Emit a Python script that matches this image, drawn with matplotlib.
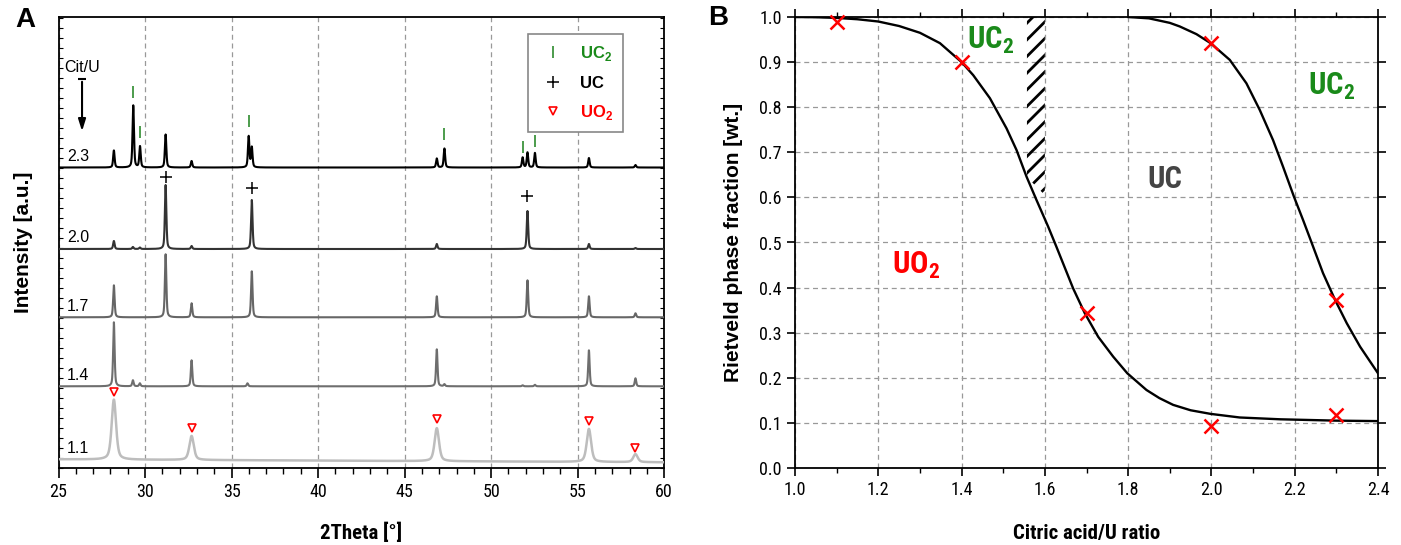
import numpy as np
import matplotlib
matplotlib.use("Agg")
import matplotlib.pyplot as plt
from matplotlib import font_manager
from matplotlib.ticker import MultipleLocator, NullFormatter, FormatStrFormatter

_names = {f.name for f in font_manager.fontManager.ttflist}
REG = "Liberation Sans" if "Liberation Sans" in _names else "DejaVu Sans"
NARROW = REG
for cand in ["Liberation Sans Narrow", "Roboto Condensed", "Open Sans Condensed",
             "DejaVu Sans Condensed", "Noto Sans Condensed"]:
    if cand in _names:
        NARROW = cand
        break

# ---------------- Data: panel A (XRD patterns) ----------------
ratios = ["2.3", "2.0", "1.7", "1.4", "1.1"]
baselines = [300.5, 219.0, 150.7, 81.7, 8.7]
baseline_right = [300.5, 219.0, 150.7, 81.7, 5.7]
colors_A = ["#000000", "#333333", "#666666", "#6e6e6e", "#bdbdbd"]
fwhm_A = [0.10, 0.10, 0.10, 0.10, 0.30]

pos_23 = [28.2, 29.32, 29.71, 31.19, 32.69, 35.99, 36.17, 46.86, 47.3, 51.82, 52.1, 52.53, 55.65, 58.34]
h_23 = [17, 62, 21, 33, 6.5, 31, 20, 9, 19, 10, 15, 14.5, 9.5, 2.5]
pos_20 = [28.2, 29.3, 29.7, 31.19, 32.69, 36.17, 46.86, 52.1, 55.65, 58.34]
h_20 = [8, 2, 1.5, 64, 3, 49, 5, 38, 5, 1]
pos_17 = [28.2, 31.19, 32.69, 36.17, 46.86, 52.1, 55.65, 58.34]
h_17 = [32, 63, 14, 46, 21, 37, 21, 4]
pos_14 = [28.2, 29.3, 29.7, 32.69, 35.92, 46.86, 47.3, 51.82, 52.53, 55.65, 58.34]
h_14 = [64, 6, 3, 26, 3, 37, 2, 1, 1.5, 36, 8]
pos_11 = [28.2, 32.69, 46.86, 55.65, 58.34]
h_11 = [60, 24, 33, 33, 8]
peaks = [(pos_23, h_23), (pos_20, h_20), (pos_17, h_17), (pos_14, h_14), (pos_11, h_11)]

uc2_x = [29.32, 29.71, 35.99, 47.3, 51.82, 52.53]
uc2_y = [376.3, 335.7, 347.0, 334.0, 320.7, 327.3]
uc_x = [31.19, 36.17, 52.1]
uc_y = [291.3, 280.0, 272.0]
uo2_x = [28.2, 32.69, 46.86, 55.65, 58.34]
uo2_y = [76.3, 40.0, 49.0, 47.0, 20.3]
legend_labels = ["UC$_\\mathregular{2}$", "UC", "UO$_\\mathregular{2}$"]

# ---------------- Data: panel B (phase fractions) ----------------
curve1_x = [1.00, 1.05, 1.10, 1.15, 1.20, 1.25, 1.30, 1.348, 1.40, 1.428, 1.468, 1.508, 1.532,
            1.556, 1.580, 1.608, 1.628, 1.668, 1.696, 1.728, 1.764, 1.798, 1.844, 1.875, 1.908,
            1.95, 1.998, 2.068, 2.165, 2.30, 2.40]
curve1_y = [1.000, 0.9995, 0.998, 0.995, 0.990, 0.980, 0.965, 0.942, 0.900, 0.871, 0.820, 0.753,
            0.705, 0.646, 0.594, 0.535, 0.490, 0.398, 0.343, 0.291, 0.247, 0.210, 0.173, 0.155,
            0.140, 0.128, 0.120, 0.112, 0.108, 0.105, 0.104]
curve2_x = [1.80, 1.85, 1.90, 1.924, 1.964, 1.998, 2.044, 2.084, 2.116, 2.148, 2.172, 2.198,
            2.220, 2.238, 2.268, 2.297, 2.325, 2.357, 2.40]
curve2_y = [1.000, 0.997, 0.987, 0.979, 0.962, 0.942, 0.905, 0.853, 0.794, 0.727, 0.668, 0.602,
            0.550, 0.506, 0.432, 0.3725, 0.321, 0.269, 0.210]
pts_x = [1.1, 1.4, 1.7, 2.0, 2.0, 2.3, 2.3]
pts_y = [0.99, 0.90, 0.343, 0.943, 0.094, 0.3725, 0.1175]
hatch_x = [1.557, 1.600]
hatch_bottom = [0.645, 0.605]
hatch_top = [1.0, 1.0]

# ---------------- Figure ----------------
plt.rcParams["hatch.linewidth"] = 2.0
W, H = 1401, 545
fig = plt.figure(figsize=(W / 100, H / 100), dpi=100)
axA = fig.add_axes([58.5 / W, 1 - 468 / H, (664.2 - 58.5) / W, (468 - 17) / H])
axB = fig.add_axes([795 / W, 1 - 468 / H, (1378 - 795) / W, (468 - 17) / H])

# Panel A
tt = np.linspace(25, 60, 7001)
for i, (pos, hts) in enumerate(peaks):
    base = np.linspace(baselines[i], baseline_right[i], tt.size)
    w = fwhm_A[i] / 2
    y = base.copy()
    for p, h in zip(pos, hts):
        lor = 1 / (1 + ((tt - p) / w) ** 2)
        gau = np.exp(-np.log(2) * ((tt - p) / w) ** 2)
        y += h * (0.5 * lor + 0.5 * gau)
    axA.plot(tt, y, color=colors_A[i], lw=1.5 if i < 4 else 1.8, zorder=3)
    axA.text(25.5, baselines[i] + 3.5, ratios[i], fontsize=11.5, family=REG,
             ha="left", va="bottom")

axA.plot(uc2_x, uc2_y, ls="none", marker="|", color="#2e8b2e", ms=8, mew=1.2, zorder=4)
axA.plot(uc_x, uc_y, ls="none", marker="+", color="black", ms=9, mew=1.1, zorder=4)
axA.plot(uo2_x, uo2_y, ls="none", marker="v", mfc="white", mec="red", ms=5.5, mew=1.2, zorder=4)

axA.text(26.39, 400.5, "Cit/U", fontsize=11.5, family=REG, ha="center", va="center")
axA.annotate("", xy=(26.36, 334), xytext=(26.36, 389),
             arrowprops=dict(arrowstyle="-|>,head_length=0.7,head_width=0.22", color="black", lw=1.5))
axA.plot([26.36], [389], marker="_", color="black", ms=6, mew=1.5)

hA = [axA.plot([], [], ls="none", marker="|", color="#2e8b2e", ms=8, mew=1.2)[0],
      axA.plot([], [], ls="none", marker="+", color="black", ms=9, mew=1.1)[0],
      axA.plot([], [], ls="none", marker="v", mfc="white", mec="red", ms=5.5, mew=1.2)[0]]
leg = axA.legend(hA, legend_labels,
                 loc="upper right", bbox_to_anchor=(0.9315, 0.9616), borderaxespad=0,
                 prop=dict(family=REG, weight="bold", size=12), fancybox=False,
                 edgecolor="#888888", framealpha=1, labelspacing=0.75, handlelength=1.8,
                 borderpad=0.6, handletextpad=0.7)
leg.get_frame().set_linewidth(1.2)
for t, c in zip(leg.get_texts(), ["#1a8a1a", "black", "red"]):
    t.set_color(c)

axA.set_xlim(25, 60)
axA.set_ylim(0, 451)
axA.xaxis.set_major_locator(MultipleLocator(5))
axA.xaxis.set_minor_locator(MultipleLocator(1))
axA.yaxis.set_major_locator(MultipleLocator(10))
axA.yaxis.set_major_formatter(NullFormatter())
axA.tick_params(axis="x", which="major", direction="out", length=7, width=1.2, labelsize=13)
axA.tick_params(axis="x", which="minor", direction="out", length=4, width=1.0)
axA.tick_params(axis="y", which="major", direction="in", length=3, width=0.8, left=True, right=True)
for lab in axA.get_xticklabels():
    lab.set_family(NARROW)
axA.grid(axis="x", which="major", ls=(0, (4, 3)), color="#999999", lw=0.9)
for s in axA.spines.values():
    s.set_linewidth(1.3)
axA.set_xlabel("2Theta [°]", family=NARROW, weight="bold", fontsize=15, labelpad=16)
axA.set_ylabel("Intensity [a.u.]", family=REG, weight="bold", fontsize=15, labelpad=15)

# Panel B
axB.fill_between(hatch_x, hatch_bottom, hatch_top, facecolor="none", edgecolor="black",
                 hatch="//", linewidth=0, zorder=2)
axB.plot(curve1_x, curve1_y, color="black", lw=1.7, zorder=3)
axB.plot(curve2_x, curve2_y, color="black", lw=1.7, zorder=3)
axB.plot(pts_x, pts_y, ls="none", marker="x", color="red", ms=10, mew=1.8, zorder=4, clip_on=False)

lab_kw = dict(family=NARROW, weight="bold", fontsize=22, ha="left", va="baseline")
axB.text(1.414, 0.93, "UC$_\\mathregular{2}$", color="#1a8a1a", **lab_kw)
axB.text(2.233, 0.827, "UC$_\\mathregular{2}$", color="#1a8a1a", **lab_kw)
axB.text(1.845, 0.62, "UC", color="#444444", **lab_kw)
axB.text(1.232, 0.43, "UO$_\\mathregular{2}$", color="red", **lab_kw)

axB.set_xlim(1.0, 2.4)
axB.set_ylim(0.0, 1.0)
axB.xaxis.set_major_locator(MultipleLocator(0.2))
axB.xaxis.set_minor_locator(MultipleLocator(0.1))
axB.yaxis.set_major_locator(MultipleLocator(0.1))
axB.xaxis.set_major_formatter(FormatStrFormatter("%.1f"))
axB.yaxis.set_major_formatter(FormatStrFormatter("%.1f"))
axB.tick_params(which="major", direction="out", length=6, width=1.2, labelsize=13,
                top=True, right=True)
axB.tick_params(which="minor", direction="out", length=3.5, width=1.0, top=True)
for lab in axB.get_xticklabels() + axB.get_yticklabels():
    lab.set_family(NARROW)
axB.grid(which="major", ls=(0, (4, 3)), color="#999999", lw=0.9)
for s in axB.spines.values():
    s.set_linewidth(1.3)
axB.set_xlabel("Citric acid/U ratio", family=NARROW, weight="bold", fontsize=15, labelpad=18)
axB.set_ylabel("Rietveld phase fraction [wt.]", family=REG, weight="bold", fontsize=15, labelpad=12)

fig.text(25 / W, 1 - 20 / H, "A", family=REG, weight="bold", fontsize=20, ha="center", va="center")
fig.text(718 / W, 1 - 18 / H, "B", family=REG, weight="bold", fontsize=20, ha="center", va="center")

fig.savefig("out.png", dpi=100)
